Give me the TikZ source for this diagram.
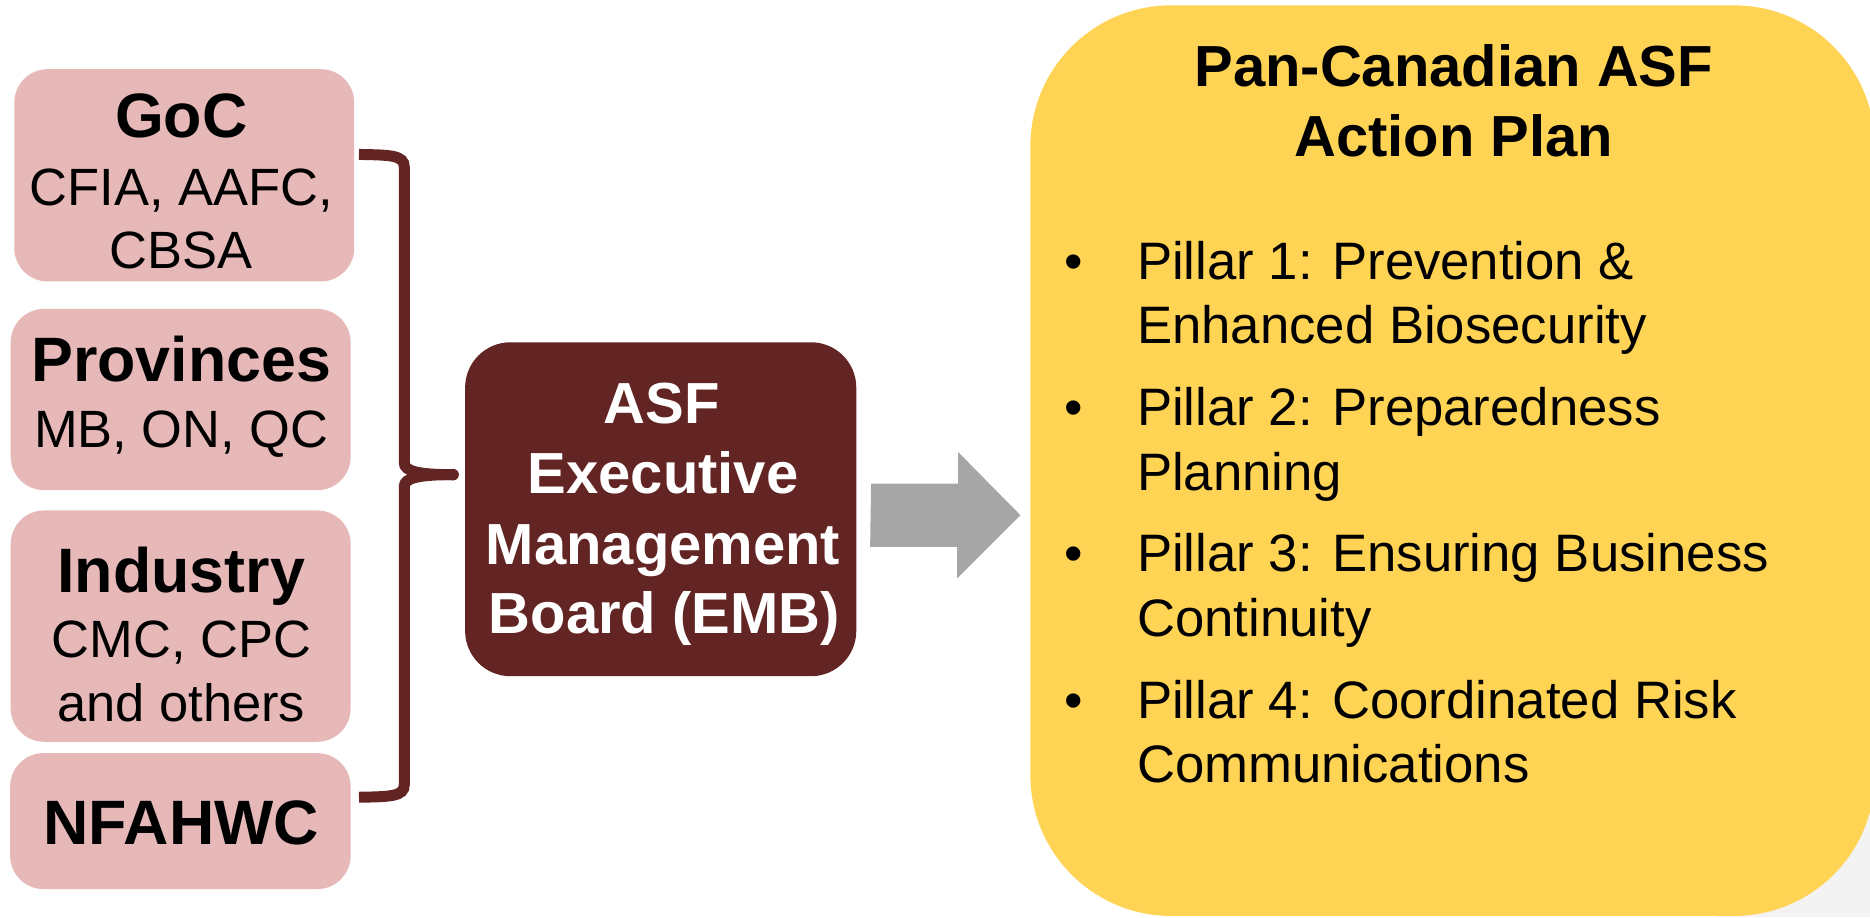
\documentclass[tikz,border=0pt]{standalone}
\usepackage{fontspec}
\setmainfont{Liberation Sans}
\usetikzlibrary{fit,calc}
\definecolor{pinkfill}{HTML}{E6B9B8}
\definecolor{maroon}{HTML}{632523}
\definecolor{planyellow}{HTML}{FFD454}
\definecolor{arrowgray}{HTML}{A6A6A6}
\definecolor{bggray}{HTML}{F3F3F3}
\begin{document}
\begin{tikzpicture}[x=0.5pt,y=-0.5pt,
  pinkbox/.style={fill=pinkfill, draw=none, rounded corners=14pt, inner sep=0},
  embbox/.style={fill=maroon, draw=none, rounded corners=19pt, inner sep=0},
  planbox/.style={fill=planyellow, draw=none, rounded corners=59pt, inner sep=0},
  hd/.style={font=\fontsize{26.3}{30}\selectfont\bfseries, inner sep=0, anchor=base},
  sub/.style={font=\fontsize{22}{26}\selectfont, inner sep=0, anchor=base},
  embtxt/.style={font=\fontsize{24.3}{29}\selectfont\bfseries, text=white, inner sep=0, anchor=base},
  ttl/.style={font=\fontsize{24.3}{29}\selectfont\bfseries, inner sep=0, anchor=base},
  pil/.style={font=\fontsize{22.1}{27}\selectfont, inner sep=0, anchor=base west},
  bul/.style={font=\fontsize{22.1}{27}\selectfont, inner sep=0, anchor=base},
  brace/.style={draw=maroon, line width=4.6pt}
]
\useasboundingbox (0,0) rectangle (1568,769);
\fill[white] (0,0) rectangle (1568,769);
\fill[bggray] (1440,600) rectangle (1568,769);

% left boxes
\node[pinkbox, fit={(12,58)(297,236)}] (goc) {};
\node[pinkbox, fit={(9,259)(294,411)}] (prov) {};
\node[pinkbox, fit={(9,428)(294,622)}] (ind) {};
\node[pinkbox, fit={(8.5,631.5)(294,745.5)}] (nfa) {};

\node[hd] (goct) at (152,115) {GoC};
\node[sub] (goc1) at (152,172) {CFIA, AAFC,};
\node[sub] (goc2) at (152,225) {CBSA};
\node[hd] (provt) at (152,320) {Provinces};
\node[sub] (prov1) at (152,375) {MB, ON, QC};
\node[hd] (indt) at (152,497) {Industry};
\node[sub] (ind1) at (152,551) {CMC, CPC};
\node[sub] (ind2) at (152,605) {and others};
\node[hd] (nfat) at (152,708) {NFAHWC};

% brace
\coordinate (bt) at (301,129.5);
\coordinate (bb) at (301,668.5);
\coordinate (btip) at (380,398);
\draw[brace] (bt) .. controls +(26,0.5) and +(0,-10) .. (339,140) -- (339,388)
  .. controls +(0,7) and +(-30,0) .. (btip);
\draw[brace] (bb) .. controls +(26,-0.5) and +(0,10) .. (339,658) -- (339,408)
  .. controls +(0,-7) and +(-30,0) .. (btip);
\fill[maroon] (btip) circle (2.4pt);

% EMB
\node[embbox, fit={(390,287)(718,567)}] (emb) {};
\node[embtxt] (emb1) at (555,355) {ASF};
\node[embtxt] (emb2) at (556,414) {Executive};
\node[embtxt] (emb3) at (556,473) {Management};
\node[embtxt] (emb4) at (557,531) {Board (EMB)};

% plan box
\node[planbox, fit={(864,4.5)(1572,768)}] (plan) {};

% arrow
\coordinate (arrS) at ([xshift=6pt,yshift=-2.5pt]emb.east);
\coordinate (arrT) at ([xshift=-4pt]plan.west |- arrS);
\fill[arrowgray] (arrS) ++(0,-26.5) -- ++(73,0) -- ++(0,-26.5) -- (arrT)
  -- ++(-53,53) -- ++(0,-26.5) -- ++(-73,0) -- cycle;

\node[ttl] (t1) at (1219,72.6) {Pan-Canadian ASF};
\node[ttl] (t2) at (1219,131) {Action Plan};

\node[bul] (b1) at (900,234.4) {•};
\node[pil] (p1a) at (953,234.4) {Pillar 1: Prevention \&};
\node[pil] (p1b) at (953,288.4) {Enhanced Biosecurity};
\node[bul] (b2) at (900,357) {•};
\node[pil] (p2a) at (953,357) {Pillar 2: Preparedness};
\node[pil] (p2b) at (953,411) {Planning};
\node[bul] (b3) at (900,479.6) {•};
\node[pil] (p3a) at (953,479.6) {Pillar 3: Ensuring Business};
\node[pil] (p3b) at (953,533.6) {Continuity};
\node[bul] (b4) at (900,602.2) {•};
\node[pil] (p4a) at (953,602.2) {Pillar 4: Coordinated Risk};
\node[pil] (p4b) at (953,656.2) {Communications};
\end{tikzpicture}
\end{document}
